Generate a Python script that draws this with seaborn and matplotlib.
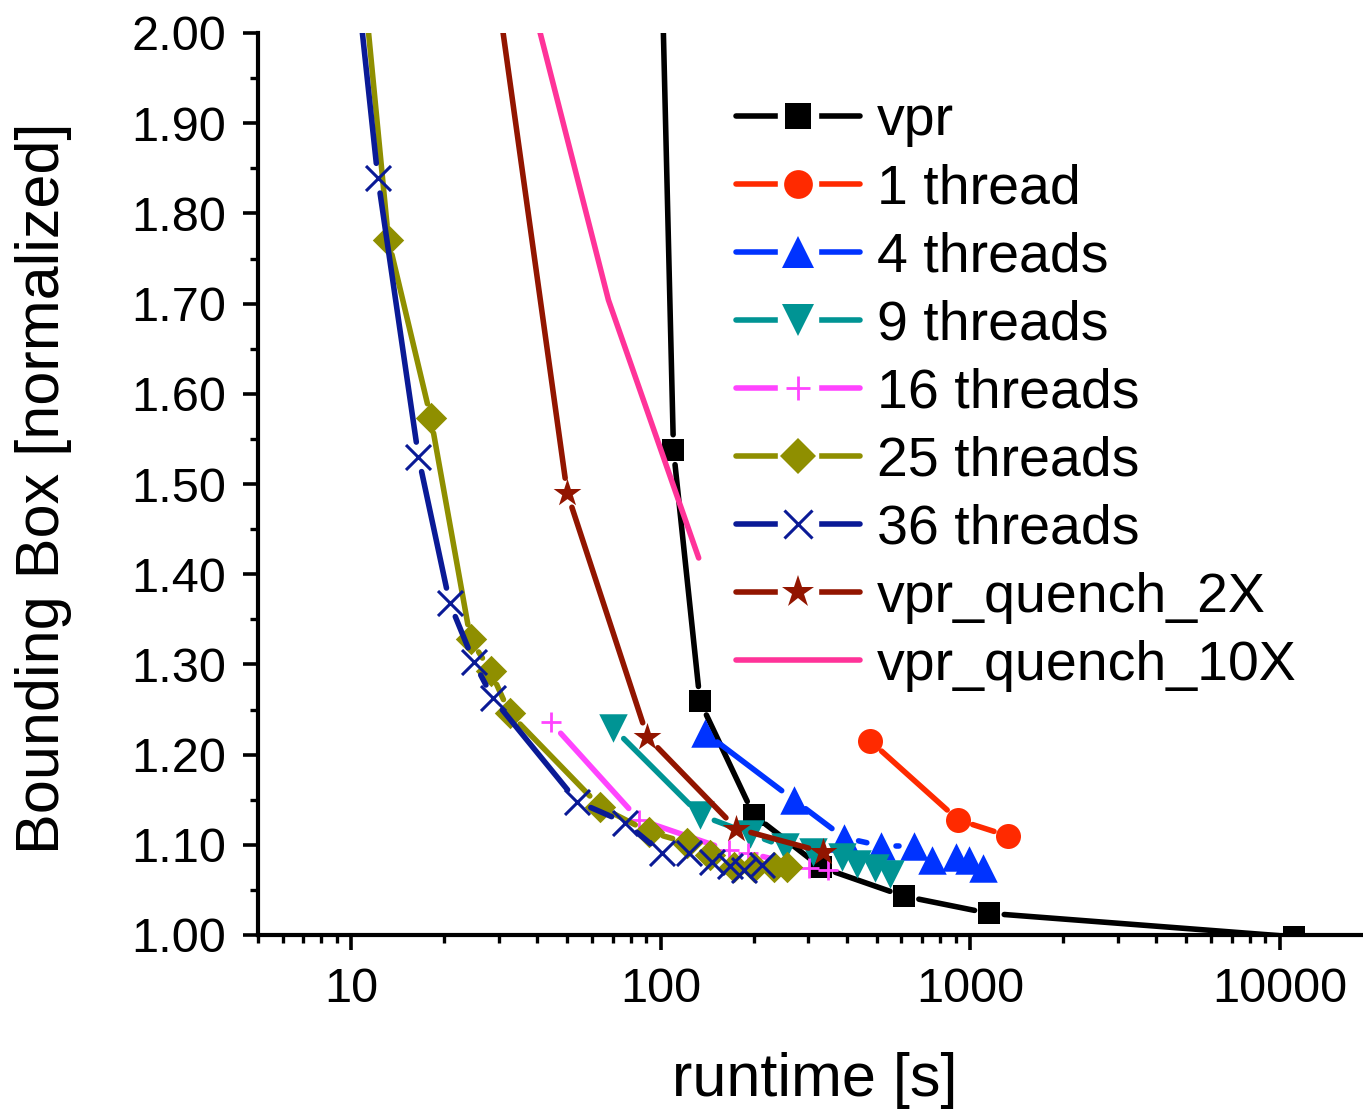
import numpy as np
import pandas as pd
import matplotlib
matplotlib.use("Agg")
import matplotlib.pyplot as plt
import seaborn as sns
from matplotlib.lines import Line2D
from matplotlib.legend_handler import HandlerTuple
from matplotlib.ticker import LogLocator, NullFormatter, MultipleLocator, FuncFormatter, FixedLocator

# ---------------- data (runtime [s], normalized bounding box) ----------------
vpr_x = [92.6, 110, 134, 199.8, 330, 612, 1153, 11140]
vpr_y = [2.6, 1.538, 1.259, 1.133, 1.075, 1.043, 1.024, 0.998]

t1_x = [476, 916, 1328]
t1_y = [1.215, 1.1275, 1.1098]

t4_x = [139.5, 269, 391, 517, 661, 755, 903, 994, 1104]
t4_y = [1.224, 1.150, 1.108, 1.0987, 1.0987, 1.083, 1.0865, 1.083, 1.074]

t9_x = [70.2, 134.3, 195, 253, 311.5, 386, 432, 494, 552]
t9_y = [1.2295, 1.133, 1.112, 1.0975, 1.092, 1.0865, 1.079, 1.074, 1.068]

t16_x = [44.1, 85, 166, 192, 302, 348]
t16_y = [1.236, 1.128, 1.094, 1.091, 1.0743, 1.072]

t25_x = [9.38, 13.2, 18.1, 24.3, 28.2, 32.5, 63.8, 91.4, 121.7, 144.7, 172.2, 199.8, 231.8, 256.6]
t25_y = [2.3, 1.7705, 1.5728, 1.3278, 1.293, 1.2458, 1.1422, 1.1145, 1.1023, 1.0887, 1.0751, 1.0757, 1.0751, 1.0754]

t36_x = [8.77, 12.2, 16.5, 20.8, 24.9, 28.7, 53.7, 76.9, 101.0, 123.2, 146.6, 168, 185.4, 212.7]
t36_y = [2.3, 1.839, 1.53, 1.3684, 1.303, 1.2624, 1.148, 1.1245, 1.0906, 1.0906, 1.0813, 1.0765, 1.072, 1.0776]

q2_x = [23.4, 49.9, 90.6, 175.7, 334.8]
q2_y = [2.3, 1.49, 1.2195, 1.118, 1.092]

q10_x = [24.4, 67.8, 132.7]
q10_y = [2.3, 1.704, 1.418]

labels = ["vpr", "1 thread", "4 threads", "9 threads", "16 threads",
          "25 threads", "36 threads", "vpr_quench_2X", "vpr_quench_10X"]
xdata = [vpr_x, t1_x, t4_x, t9_x, t16_x, t25_x, t36_x, q2_x, q10_x]
ydata = [vpr_y, t1_y, t4_y, t9_y, t16_y, t25_y, t36_y, q2_y, q10_y]
colors = ["#000000", "#FF2A00", "#0033FF", "#009494", "#FF44FF",
          "#8F8F00", "#0A1A96", "#921500", "#FF3399"]
markers = ["s", "o", "^", "v", "+", "D", "x", "*", None]
msizes = [16.5, 18, 20.5, 20.5, 15, 16, 18, 21, 0]      # points
mlw = [0, 0, 0, 0, 2.0, 0, 2.2, 0, 0]

x_ticks = [10, 100, 1000, 10000]
y_ticks = [1.0, 1.1, 1.2, 1.3, 1.4, 1.5, 1.6, 1.7, 1.8, 1.9, 2.0]

# ---------------- style ----------------
sns.set_style("ticks")
plt.rcParams["font.family"] = ["Liberation Sans", "DejaVu Sans"]
plt.rcParams["axes.linewidth"] = 3
for key in ("text.color", "axes.labelcolor", "xtick.color", "ytick.color",
            "xtick.labelcolor", "ytick.labelcolor", "axes.edgecolor"):
    plt.rcParams[key] = "black"

W, H = 1363, 1113
fig = plt.figure(figsize=(W / 100, H / 100), dpi=100)
ax_left, ax_bottom = 258 / W, 178 / H
ax_w, ax_h = (1372.8 - 258) / W, 902 / H
ax = fig.add_axes([ax_left, ax_bottom, ax_w, ax_h])
ax.set_xscale("log")
ax.set_xlim(5, 20000)
ax.set_ylim(1.0, 2.0)

LW = 4.0
GAP = 15  # px gap in line around each marker (Origin style)


def gapped_segments(xs, ys, gap):
    pts = ax.transData.transform(np.column_stack([xs, ys]))
    inv = ax.transData.inverted()
    recs = []
    for i in range(len(pts) - 1):
        p, q = pts[i], pts[i + 1]
        d = q - p
        L = np.hypot(d[0], d[1])
        if L <= 2 * gap + 2:
            continue
        u = d / L
        a = inv.transform(p + u * gap)
        b = inv.transform(q - u * gap)
        recs.append((i, a[0], a[1]))
        recs.append((i, b[0], b[1]))
    return pd.DataFrame(recs, columns=["seg", "x", "y"])


for k, (lab, xs, ys, c, m, ms, lw_m) in enumerate(
        zip(labels, xdata, ydata, colors, markers, msizes, mlw)):
    z = 3 + 2 * k
    if m is None:
        df = pd.DataFrame({"x": xs, "y": ys})
        sns.lineplot(data=df, x="x", y="y", sort=False, estimator=None, color=c,
                     linewidth=LW, ax=ax, legend=False, zorder=z,
                     solid_capstyle="round")
        continue
    seg = gapped_segments(xs, ys, GAP)
    if len(seg):
        sns.lineplot(data=seg, x="x", y="y", units="seg", estimator=None, sort=False,
                     color=c, linewidth=LW, ax=ax, legend=False, zorder=z,
                     solid_capstyle="round")
    if m in ("x", "+"):
        sns.scatterplot(x=xs, y=ys, marker=m, s=ms ** 2, color=c, linewidth=lw_m,
                        ax=ax, legend=False, zorder=z + 1)
    else:
        sns.scatterplot(x=xs, y=ys, marker=m, s=ms ** 2, color=c, edgecolor=c,
                        linewidth=0, ax=ax, legend=False, zorder=z + 1)

# ---------------- axes ----------------
sns.despine(ax=ax)
ax.spines["left"].set_linewidth(3)
ax.spines["bottom"].set_linewidth(3)
ax.spines["left"].set_zorder(40)
ax.spines["bottom"].set_zorder(40)
ax.xaxis.set_major_locator(FixedLocator(x_ticks))
ax.xaxis.set_major_formatter(FuncFormatter(lambda v, p: f"{v:.0f}"))
ax.xaxis.set_minor_locator(LogLocator(base=10, subs=np.arange(2, 10), numticks=20))
ax.xaxis.set_minor_formatter(NullFormatter())
ax.yaxis.set_major_locator(FixedLocator(y_ticks))
ax.yaxis.set_major_formatter(FuncFormatter(lambda v, p: f"{v:.2f}"))
ax.yaxis.set_minor_locator(MultipleLocator(0.05))
ax.tick_params(which="major", length=11, width=2.6, labelsize=35, pad=12,
               direction="out", color="black", labelcolor="black")
ax.tick_params(which="minor", length=5.5, width=2.4, direction="out", color="black")
ax.set_xlim(5, 20000)
ax.set_ylim(1.0, 2.0)

ax.set_xlabel("runtime [s]", fontsize=44, color="black")
ax.set_ylabel("Bounding Box [normalized]", fontsize=44, color="black")
ax.xaxis.set_label_coords(815 / W, 1 - 1052 / H, transform=fig.transFigure)
ax.yaxis.set_label_coords(72 / W, 1 - 488 / H, transform=fig.transFigure)

# ---------------- legend ----------------
handles = []
for lab, c, m, ms, lw_m in zip(labels, colors, markers, msizes, mlw):
    line = Line2D([], [], color=c, lw=LW, solid_capstyle="round")
    if m is None:
        handles.append(line)
        continue
    halo = Line2D([], [], ls="none", marker="s", ms=29, mfc="white", mec="white")
    mk = Line2D([], [], ls="none", marker=m, ms=ms * 1.15, color=c,
                mew=lw_m if lw_m else 0.0)
    handles.append((line, halo, mk))

leg = ax.legend(handles, labels, handler_map={tuple: HandlerTuple(ndivide=1, pad=0)},
                loc="upper left", bbox_to_anchor=(736 / W, 1 - 95 / H),
                bbox_transform=fig.transFigure, frameon=False, fontsize=40,
                handlelength=2.24, handletextpad=0.29, labelspacing=0.29,
                borderpad=0, borderaxespad=0)
leg.set_zorder(50)
for t in leg.get_texts():
    t.set_color("black")

fig.savefig("out.png", dpi=100)
